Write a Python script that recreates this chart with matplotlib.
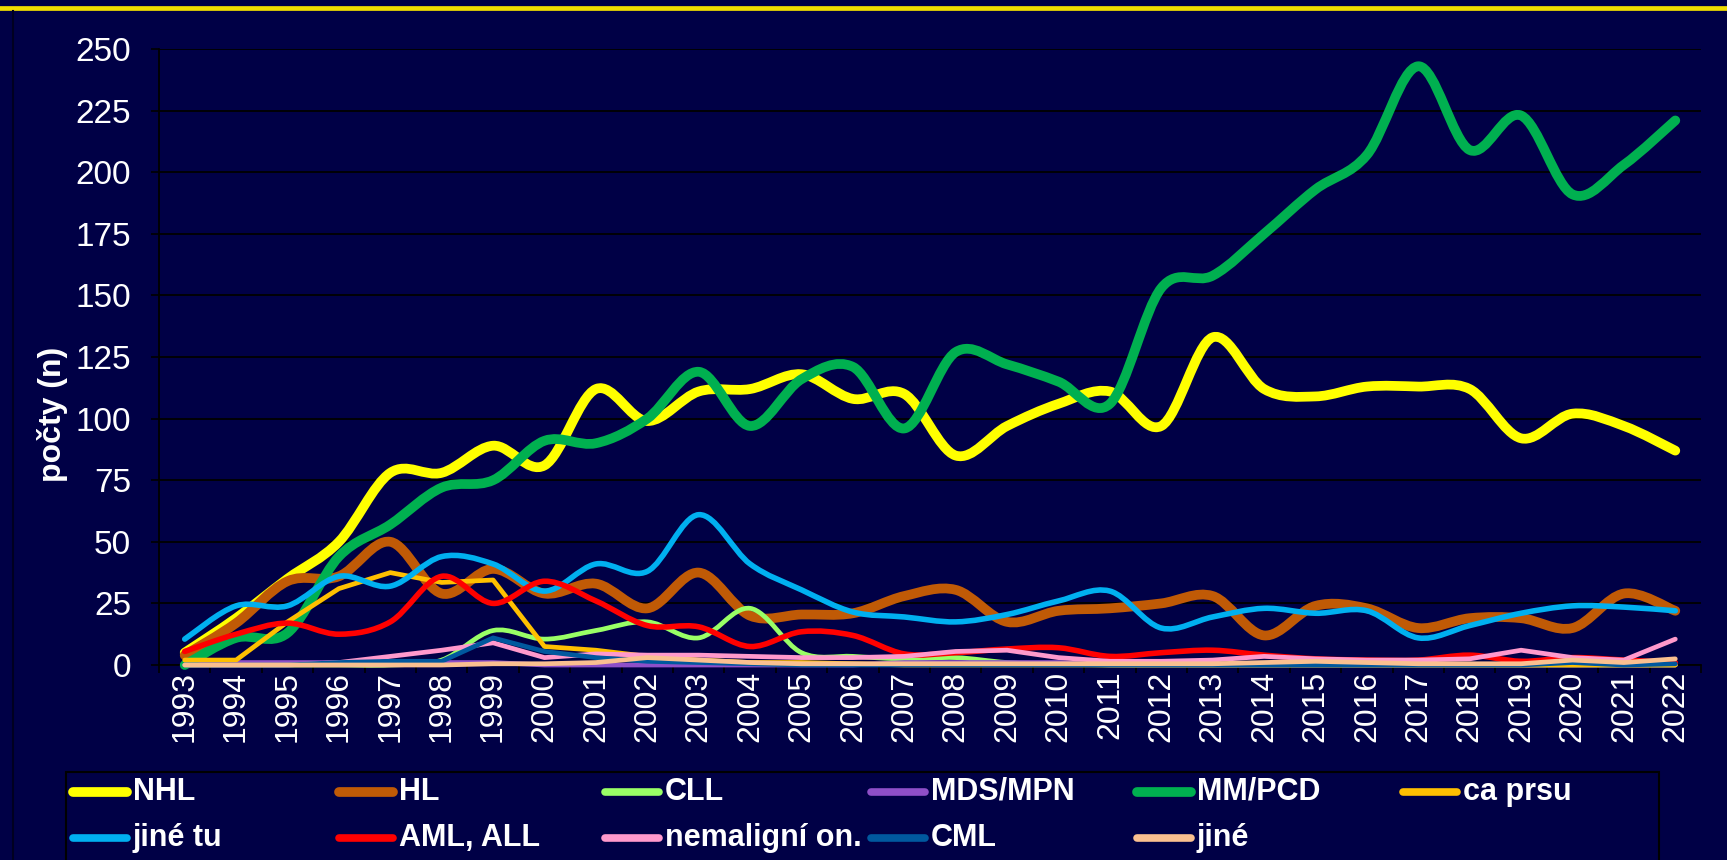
import numpy as np
import matplotlib
matplotlib.use("Agg")
import matplotlib.pyplot as plt
from matplotlib.path import Path
from matplotlib.patches import PathPatch, Rectangle
from matplotlib.lines import Line2D

plt.rcParams['font.family'] = ['Liberation Sans', 'DejaVu Sans']

# ---------------- data ----------------
years = list(range(1993, 2023))
names = ["NHL", "HL", "CLL", "MDS/MPN", "MM/PCD", "ca prsu",
         "jiné tu", "AML, ALL", "nemaligní on.", "CML", "jiné"]

nhl = [5, 19, 35, 50, 78, 78, 89, 81, 112, 99, 111, 112, 118, 108, 110,
       85, 97, 106, 111, 97, 133, 112, 109, 113, 113, 112, 92, 102, 97, 87]
hl = [4, 17, 34, 36, 50, 29, 39, 29, 33, 23, 37.5, 20, 20.5, 21, 28,
      30.5, 17.5, 22, 23, 25, 28, 12, 24, 23, 15, 19, 19, 15, 29, 22]
cll = [0, 0, 0, 0, 0, 2, 14, 10.5, 14, 17.5, 11, 23, 5, 3.5, 2.5,
       3, 1, 0.5, 0, 0, 0, 0, 0, 0, 0, 0, 0, 0, 0, 0]
mds = [0, 1, 1, 1, 1, 1, 1, 0, 0, 0, 0, 0, 0, 0, 1,
       1, 1, 1, 0, 0, 0, 0, 0, 0, 0, 0, 0, 0, 0, 0]
mm = [0, 11, 13, 44, 57, 72, 75, 91, 90, 100, 119, 97, 116, 121, 96,
      127, 122, 115, 106, 153, 158, 175, 193, 207, 243, 209, 223, 191, 203, 221]
ca_prsu = [2, 2, 17.5, 31, 37.5, 33.5, 34.5, 7.5, 6, 3.5, 2, 1, 1, 0.5, 0,
           0, 0, 0, 0, 0, 0, 0, 0, 0, 0, 0, 0, 0, 0, 0]
jine_tu = [10.5, 24, 24, 36, 32, 44, 41, 30, 41, 38, 61, 41, 30.5, 21.5, 19.5,
           17.5, 20.5, 26, 30, 15, 19.5, 23, 21, 22, 11, 16, 21, 24, 23.5, 22]
aml = [5.5, 12.5, 17, 12.5, 17.5, 36, 25, 34, 26, 16, 15.5, 7.5, 13.5, 12, 4.5,
       5, 6.5, 7, 3.5, 5, 6, 4, 2.5, 2, 2, 4, 1.5, 3, 2, 1]
nemalig = [0, 0, 0, 1, 3.5, 6, 9, 3, 4.5, 4, 4, 3.5, 3, 3, 3.5,
           5.5, 6, 3, 1.5, 1.5, 2, 3.5, 2.5, 2, 2, 2.5, 6, 3, 2, 10.5]
cml = [0, 0, 0, 1, 1.5, 1.5, 11, 5.5, 3, 1.5, 1, 0.5, 0, 0, 0,
       0, 0, 0, 0, 0, 0, 0, 0, 0, 0, 0, 0, 1, 0, 0.5]
jine = [0, 0, 0, 0, 0, 0, 0.5, 0.5, 1, 3, 2, 1, 0.5, 0.5, 0.5,
        0.5, 0.5, 0.5, 0.5, 0.5, 0.5, 1, 1.5, 1, 0.5, 0.5, 0.5, 2, 1, 2.5]

series = [nhl, hl, cll, mds, mm, ca_prsu, jine_tu, aml, nemalig, cml, jine]
colors = ["#FFFF00", "#C05A06", "#99FF66", "#8E4FC8", "#00B050", "#FFC000",
          "#00B0F0", "#FF0000", "#FF99CC", "#00589E", "#FAC090"]
widths = [7.0, 7.0, 3.4, 3.4, 7.0, 3.4, 4.0, 4.0, 3.4, 3.4, 3.4]
smoothed = [True, True, True, False, True, False, True, True, False, False, False]

BG = "#000046"


def smooth_path(x, y):
    n = len(x)
    verts = [(x[0], y[0])]
    codes = [Path.MOVETO]
    for i in range(n - 1):
        p0 = (x[i - 1], y[i - 1]) if i > 0 else (x[i], y[i])
        p1 = (x[i], y[i])
        p2 = (x[i + 1], y[i + 1])
        p3 = (x[i + 2], y[i + 2]) if i + 2 < n else p2
        c1 = (p1[0] + (p2[0] - p0[0]) / 6.0, p1[1] + (p2[1] - p0[1]) / 6.0)
        c2 = (p2[0] - (p3[0] - p1[0]) / 6.0, p2[1] - (p3[1] - p1[1]) / 6.0)
        verts += [c1, c2, p2]
        codes += [Path.CURVE4] * 3
    return Path(verts, codes)


W, H = 1727, 860
fig = plt.figure(figsize=(W / 100, H / 100), dpi=100, facecolor=BG)
ax = fig.add_axes([159 / W, 1 - 665 / H, (1701 - 159) / W, (665 - 49) / H])
ax.set_facecolor(BG)

x = np.arange(len(years))
for k, (vals, col, lw, sm) in enumerate(zip(series, colors, widths, smoothed)):
    if sm:
        patch = PathPatch(smooth_path(x, vals), facecolor="none", edgecolor=col,
                          lw=lw, capstyle="round", joinstyle="round",
                          zorder=3 + k, clip_on=False)
        ax.add_patch(patch)
    else:
        ax.plot(x, vals, color=col, lw=lw, solid_capstyle="round",
                solid_joinstyle="round", zorder=3 + k, clip_on=False)

ax.set_xlim(-0.5, len(years) - 0.5)
ax.set_ylim(0, 250)
ax.set_yticks(range(0, 251, 25))
ax.grid(axis="y", color="black", lw=1.3)
ax.set_axisbelow(True)

for s in ["top", "right"]:
    ax.spines[s].set_visible(False)
for s in ["left", "bottom"]:
    ax.spines[s].set_color("black")
    ax.spines[s].set_linewidth(1.3)

ax.set_xticks(np.arange(-0.5, len(years), 1))
ax.set_xticklabels([])
ax.set_xticks(x, minor=True)
ax.set_xticklabels([str(y) for y in years], minor=True, rotation=90)
ax.tick_params(axis="x", which="major", length=6, width=1.2, color="black")
ax.tick_params(axis="x", which="minor", length=0, pad=4, labelsize=23,
               labelcolor="white")
ax.tick_params(axis="y", length=6, width=1.2, color="black", labelsize=24,
               labelcolor="white", pad=14)

fig.text(53 / W, 1 - 414 / H, "počty (n)", rotation=90, ha="center",
         va="center", color="white", fontsize=23, fontweight="bold")

# slide decorations
fig.add_artist(Line2D([0, 1], [1 - 8 / H, 1 - 8 / H], transform=fig.transFigure,
                      color="#F0DC00", lw=3.4))
fig.add_artist(Line2D([13 / W, 13 / W], [0, 1 - 11 / H], transform=fig.transFigure,
                      color="#000020", lw=1.5))

# legend box and entries
fig.add_artist(Rectangle((66 / W, -0.01), (1659 - 66) / W, 1 - 772 / H + 0.01,
                         transform=fig.transFigure, fill=False,
                         edgecolor="black", lw=1.5))
row_y = [1 - 792 / H, 1 - 838 / H]
for k, (name, col, lw) in enumerate(zip(names, colors, widths)):
    r, c = divmod(k, 6)
    x0 = 71 + 266 * c
    yy = row_y[r]
    fig.add_artist(Line2D([(x0 + 2) / W, (x0 + 56) / W], [yy, yy],
                          transform=fig.transFigure, color=col,
                          lw=max(lw, 5.5), solid_capstyle="round"))
    fig.text((x0 + 62) / W, yy, name, ha="left", va="center", color="white",
             fontsize=22, fontweight="bold")

fig.savefig("out.png", dpi=100, facecolor=BG)
